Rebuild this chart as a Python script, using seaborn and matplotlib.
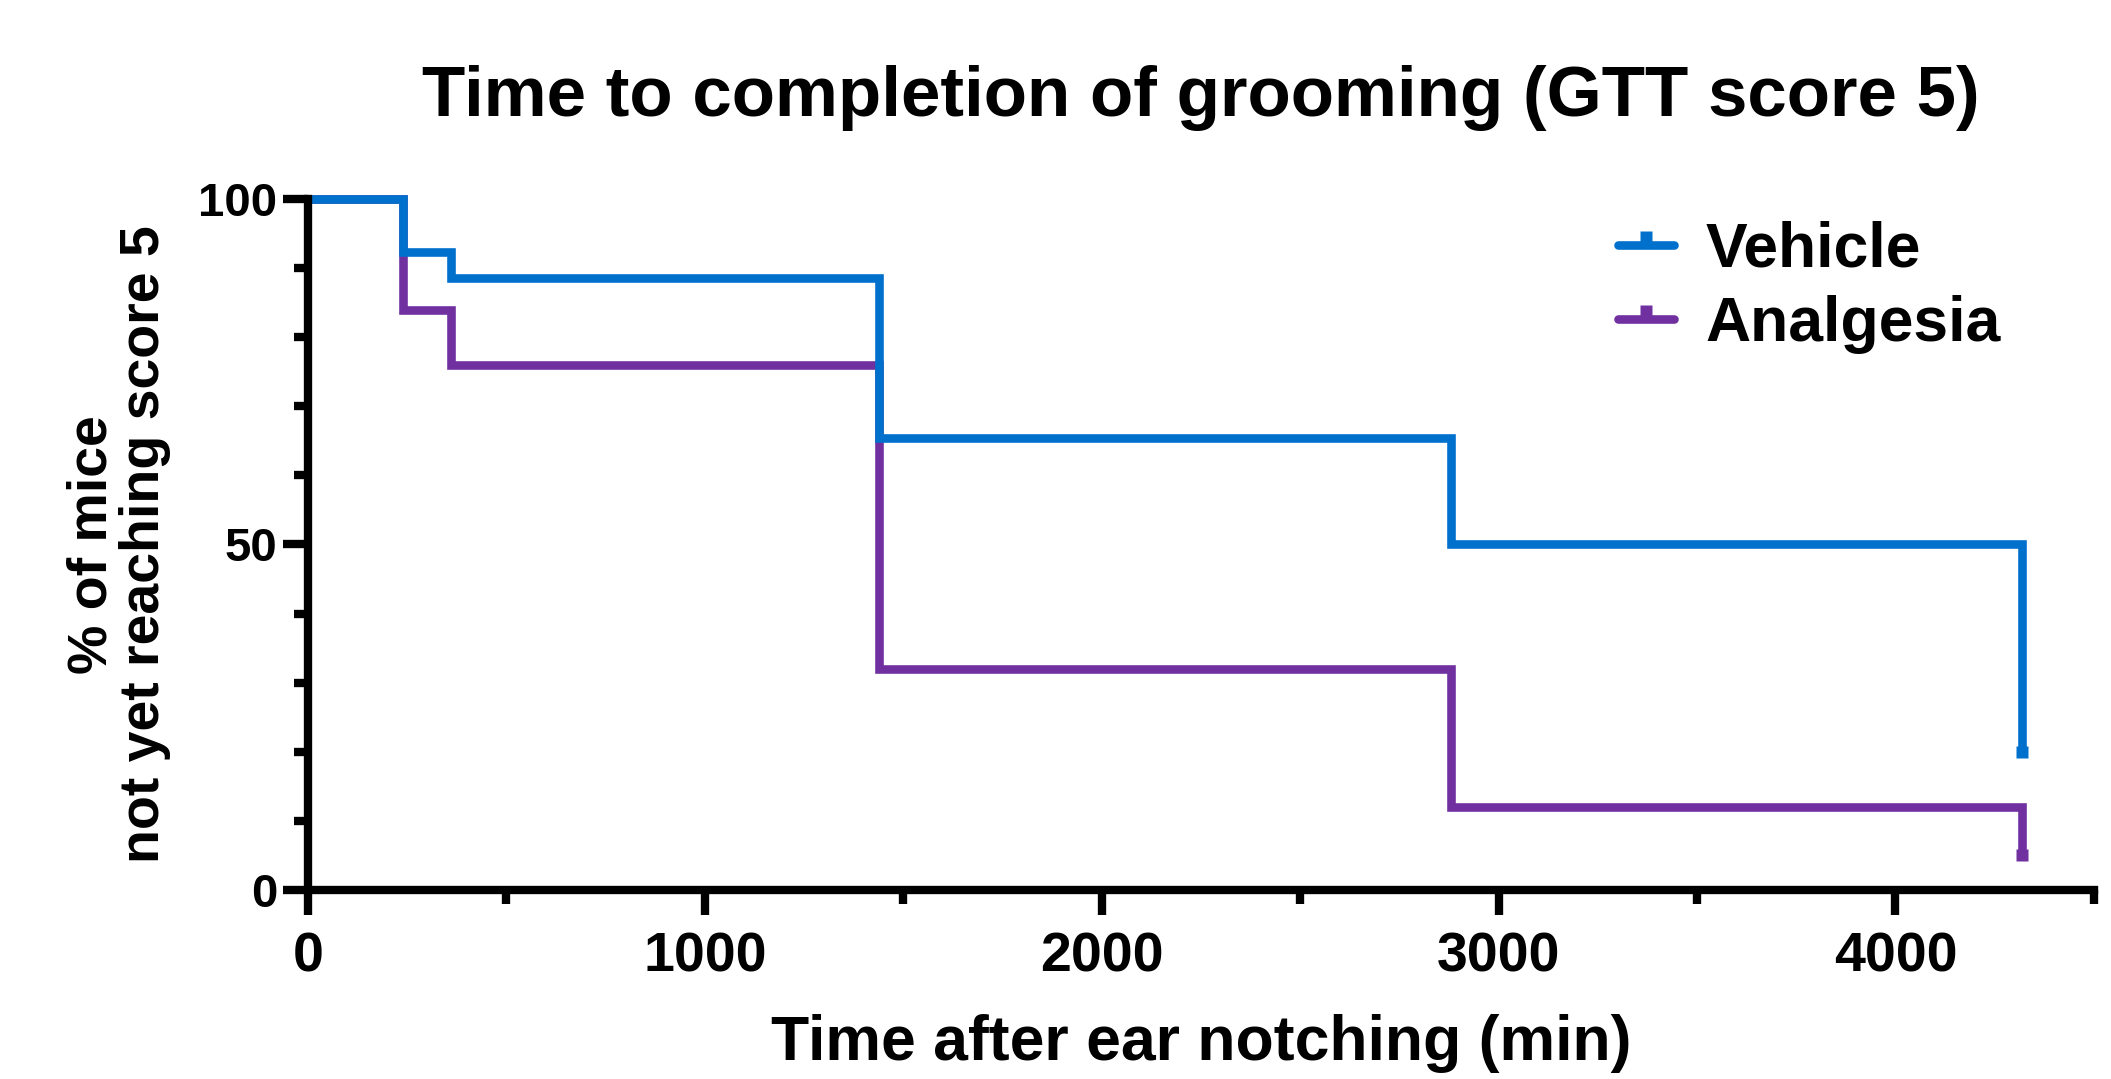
import numpy as np
import pandas as pd
import matplotlib
matplotlib.use("Agg")
import matplotlib.pyplot as plt
from matplotlib.lines import Line2D
from matplotlib.path import Path
import seaborn as sns

# Kaplan-Meier step data
time_min = [0, 240, 360, 1440, 2880, 4320]
vehicle_pct = [100, 92.3, 88.5, 65.4, 50, 20]
analgesia_pct = [100, 84, 76, 32, 12, 5]
groups = ["Vehicle", "Analgesia"]
colors = {"Vehicle": "#0070CD", "Analgesia": "#7030A0"}

data = pd.DataFrame({
    "time": time_min * 2,
    "pct": vehicle_pct + analgesia_pct,
    "group": ["Vehicle"] * len(time_min) + ["Analgesia"] * len(time_min),
})

sns.set_style("white")
plt.rcParams["font.family"] = ["Liberation Sans", "DejaVu Sans"]
plt.rcParams["font.weight"] = "bold"
plt.rcParams["text.color"] = "black"
plt.rcParams["axes.labelcolor"] = "black"
plt.rcParams["xtick.color"] = "black"
plt.rcParams["ytick.color"] = "black"

fig = plt.figure(figsize=(21.11, 10.79), dpi=100)
ax = fig.add_axes([0.1459, 0.1752, 0.846, 0.6404])

sns.lineplot(data=data, x="time", y="pct", hue="group", hue_order=groups,
             palette=colors, drawstyle="steps-post", estimator=None,
             linewidth=6.2, legend=False, ax=ax)
for ln in ax.lines:
    ln.set_clip_on(False)
    ln.set_solid_joinstyle("miter")
    ln.set_solid_capstyle("butt")
ax.lines[0].set_zorder(4)
ax.lines[1].set_zorder(3)

# censor marks at the end of follow-up
last = data.groupby("group").tail(1)
for _, row in last.iterrows():
    ax.plot(row["time"], row["pct"], marker="s", ms=9, color=colors[row["group"]],
            mec="none", clip_on=False, zorder=5)

ax.set_xlim(0, 4500)
ax.set_ylim(0, 100)
ax.set_xticks([0, 1000, 2000, 3000, 4000])
ax.set_xticks(np.arange(500, 4600, 1000), minor=True)
ax.set_yticks([0, 50, 100])
ax.set_yticks(np.arange(10, 100, 10), minor=True)

for s in ["top", "right"]:
    ax.spines[s].set_visible(False)
for s in ["left", "bottom"]:
    ax.spines[s].set_linewidth(6)
    ax.spines[s].set_color("black")
ax.spines["left"].set_zorder(6)

ax.tick_params(axis="both", which="both", bottom=True, left=True, direction="out")
ax.tick_params(axis="both", which="major", length=18, width=6, color="black")
ax.tick_params(axis="both", which="minor", length=10, width=6, color="black")
ax.tick_params(axis="x", which="major", labelsize=40, pad=12)
ax.tick_params(axis="y", which="major", labelsize=34, pad=4)
for lab in ax.get_xticklabels() + ax.get_yticklabels():
    lab.set_fontweight("bold")

ax.set_xlabel("Time after ear notching (min)", fontsize=45, fontweight="bold", labelpad=22)
ax.set_ylabel("% of mice\nnot yet reaching score 5", fontsize=40, fontweight="bold",
              labelpad=20, linespacing=1.0)
ax.set_title("Time to completion of grooming (GTT score 5)", fontsize=51,
             fontweight="bold", pad=60)

# legend with a censor tick on each handle
tick = Path([(-0.4, 0), (0.4, 0), (0.4, 1), (-0.4, 1), (-0.4, 0)],
            [Path.MOVETO, Path.LINETO, Path.LINETO, Path.LINETO, Path.CLOSEPOLY])
handles = [Line2D([0], [0], color=colors[g], lw=6.2, marker=tick, ms=20,
                  mec="none", mfc=colors[g]) for g in groups]
ax.legend(handles, groups, loc="upper left", bbox_to_anchor=(0.702, 1.05),
          frameon=False, prop={"size": 45, "weight": "bold"},
          handlelength=0.9, handletextpad=0.5, labelspacing=0.25)

fig.savefig("out.png", dpi=100)
